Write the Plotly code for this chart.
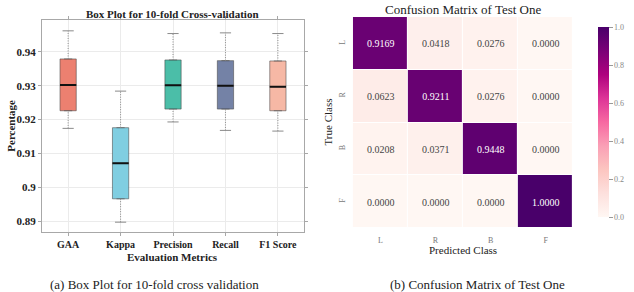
import plotly.graph_objects as go

# ---------------- data ----------------
metrics = ["GAA", "Kappa", "Precision", "Recall", "F1 Score"]
lower = [0.9174, 0.8897, 0.9193, 0.9168, 0.9166]
q1 = [0.9226, 0.8966, 0.9231, 0.9231, 0.9226]
median = [0.9302, 0.9071, 0.9301, 0.9300, 0.9297]
q3 = [0.9379, 0.9176, 0.9376, 0.9374, 0.9373]
upper = [0.9462, 0.9284, 0.9454, 0.9456, 0.9454]
box_colors = ["#EC8070", "#80CEE1", "#4BBEA8", "#7482A6", "#F6B8A5"]

y_ticks = [0.89, 0.90, 0.91, 0.92, 0.93, 0.94]
y_tick_text = ["0.89", "0.9", "0.91", "0.92", "0.93", "0.94"]

classes = ["L", "R", "B", "F"]
cm = [
    [0.9169, 0.0418, 0.0276, 0.0000],
    [0.0623, 0.9211, 0.0276, 0.0000],
    [0.0208, 0.0371, 0.9448, 0.0000],
    [0.0000, 0.0000, 0.0000, 1.0000],
]
cbar_ticks = [0.0, 0.2, 0.4, 0.6, 0.8, 1.0]

# ---------------- geometry helpers ----------------
W, H = 634, 292
def px(x):
    return x / W
def py(y):
    return 1 - y / H

SERIF = "Liberation Serif"
BOX_W = 0.31

fig = go.Figure()

# boxes (whiskers drawn separately as dotted lines)
for i, m in enumerate(metrics):
    fig.add_trace(go.Box(
        x=[i], q1=[q1[i]], median=[median[i]], q3=[q3[i]],
        lowerfence=[q1[i]], upperfence=[q3[i]],
        width=BOX_W, fillcolor=box_colors[i],
        line=dict(color="rgba(70,70,70,0.55)", width=1),
        xaxis="x", yaxis="y", showlegend=False, hoverinfo="skip",
    ))

# whiskers
wx, wy = [], []
for i in range(len(metrics)):
    wx += [i, i, None, i, i, None]
    wy += [lower[i], q1[i], None, q3[i], upper[i], None]
fig.add_trace(go.Scatter(
    x=wx, y=wy, mode="lines",
    line=dict(color="#8a8a8a", width=1, dash="1px,1.5px"),
    xaxis="x", yaxis="y", showlegend=False, hoverinfo="skip",
))
# caps
fig.add_trace(go.Scatter(
    x=list(range(len(metrics))) * 2, y=lower + upper, mode="markers",
    marker=dict(symbol="line-ew", size=8, line=dict(color="#8a8a8a", width=1)),
    xaxis="x", yaxis="y", showlegend=False, hoverinfo="skip",
))
# medians
mx, my = [], []
for i in range(len(metrics)):
    mx += [i - BOX_W / 2, i + BOX_W / 2, None]
    my += [median[i], median[i], None]
fig.add_trace(go.Scatter(
    x=mx, y=my, mode="lines", line=dict(color="#111111", width=2),
    xaxis="x", yaxis="y", showlegend=False, hoverinfo="skip",
))

# heatmap
fig.add_trace(go.Heatmap(
    z=cm, x=classes, y=classes, zmin=0, zmax=1,
    colorscale="RdPu", xgap=1, ygap=1,
    texttemplate="%{z:.4f}",
    textfont=dict(family=SERIF, size=10),
    xaxis="x2", yaxis="y2", hoverinfo="skip",
    colorbar=dict(
        x=px(603), xanchor="left", thickness=11,
        lenmode="pixels", len=210, y=py(122), yanchor="middle",
        outlinewidth=0, tickvals=cbar_ticks, tickformat=".1f",
        ticks="outside", ticklen=4, tickcolor="#999999",
        tickfont=dict(family=SERIF, size=8, color="#888888"),
    ),
))

fig.update_layout(
    width=W, height=H, margin=dict(l=0, r=0, t=0, b=0),
    paper_bgcolor="white", plot_bgcolor="white", showlegend=False,
    xaxis=dict(
        domain=[px(43), px(312)], range=[-0.5, 4.5], type="linear",
        tickvals=list(range(len(metrics))), ticktext=metrics,
        tickfont=dict(family=SERIF, size=10, color="#222222", weight="bold"),
        showgrid=True, gridcolor="#ebebeb", gridwidth=1, zeroline=False,
        showline=True, linecolor="#a8a8a8", linewidth=1, mirror="ticks",
        ticks="outside", ticklen=3, tickcolor="#a8a8a8",
        anchor="y",
    ),
    yaxis=dict(
        domain=[py(232), py(20)], range=[0.8868, 0.9494],
        tickvals=y_ticks, ticktext=y_tick_text,
        tickfont=dict(family=SERIF, size=11, color="#222222", weight="bold"),
        showgrid=True, gridcolor="#ebebeb", gridwidth=1, zeroline=False,
        showline=True, linecolor="#a8a8a8", linewidth=1, mirror="ticks",
        ticks="outside", ticklen=3, tickcolor="#a8a8a8",
        anchor="x",
    ),
    xaxis2=dict(
        domain=[px(362), px(588)], type="category", anchor="y2",
        tickfont=dict(family=SERIF, size=8, color="#777777"),
        showgrid=False, zeroline=False, showline=False,
        ticks="outside", ticklen=4, tickcolor="rgba(0,0,0,0)",
    ),
    yaxis2=dict(
        domain=[py(228), py(17)], type="category", anchor="x2",
        autorange="reversed", tickangle=-90,
        tickfont=dict(family=SERIF, size=8, color="#777777"),
        showgrid=False, zeroline=False, showline=False,
        ticks="outside", ticklen=4, tickcolor="rgba(0,0,0,0)",
    ),
)

ann = [
    dict(text="<b>Box Plot for 10-fold Cross-validation</b>", x=px(177), y=py(14),
         font=dict(family=SERIF, size=11, color="#222222")),
    dict(text="<b>Evaluation Metrics</b>", x=px(177), y=py(257),
         font=dict(family=SERIF, size=11, color="#222222")),
    dict(text="<b>Percentage</b>", x=px(11), y=py(126), textangle=-90,
         font=dict(family=SERIF, size=11, color="#222222")),
    dict(text="(a) Box Plot for 10-fold cross validation", x=px(158), y=py(284),
         font=dict(family=SERIF, size=13, color="#222222")),
    dict(text="Confusion Matrix of Test One", x=px(475), y=py(9),
         font=dict(family=SERIF, size=13, color="#222222")),
    dict(text="Predicted Class", x=px(475), y=py(250),
         font=dict(family=SERIF, size=11, color="#222222")),
    dict(text="True Class", x=px(337), y=py(122), textangle=-90,
         font=dict(family=SERIF, size=11, color="#222222")),
    dict(text="(b) Confusion Matrix of Test One", x=px(490), y=py(284),
         font=dict(family=SERIF, size=13, color="#222222")),
]
for a in ann:
    a.update(xref="paper", yref="paper", showarrow=False,
             xanchor="center", yanchor="middle")
fig.update_layout(annotations=ann)

fig.write_html(
    "out.html",
    config={"displayModeBar": False},
    post_script="document.body.style.margin='0';document.body.style.overflow='hidden';",
)
